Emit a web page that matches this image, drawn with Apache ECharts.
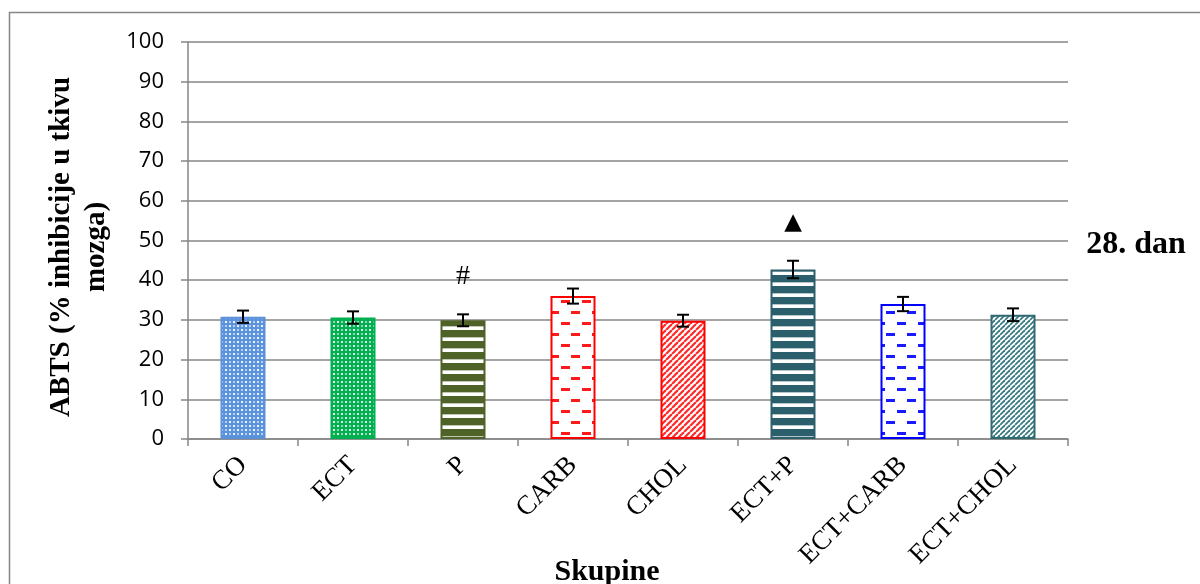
<!DOCTYPE html>
<html><head><meta charset="utf-8">
<script src="https://cdn.jsdelivr.net/npm/echarts@6/dist/echarts.min.js"></script>
<style>html,body{margin:0;padding:0;background:#fff}#c{width:1200px;height:584px}</style>
</head><body><div id="c"></div>
<script>
// ---- data ----
const categories = ['CO', 'ECT', 'P', 'CARB', 'CHOL', 'ECT+P', 'ECT+CARB', 'ECT+CHOL'];
const means = [30.8, 30.6, 29.9, 36.0, 29.8, 42.7, 34.0, 31.3];
const errors = [1.55, 1.55, 1.5, 1.9, 1.5, 2.2, 1.8, 1.6];
const marks = ['', '', '#', '', '', '\u25B2', '', ''];
const yMin = 0, yMax = 100, yStep = 10;
const xTitle = 'Skupine';
const yTitle = 'ABTS (% inhibicije u tkivu\nmozga)';
const sideNote = '28. dan';

// ---- pattern helpers (style only) ----
function tile(w, h, fn) {
  const c = document.createElement('canvas'); c.width = w; c.height = h;
  const g = c.getContext('2d'); g.fillStyle = '#fff'; g.fillRect(0, 0, w, h); fn(g);
  return { image: c, repeat: 'repeat' };
}
function plaid(color) {
  return tile(8, 8, g => {
    g.fillStyle = color; g.fillRect(0, 0, 8, 8);
    g.fillStyle = 'rgba(255,255,255,0.9)'; g.fillRect(1, 1, 2, 2); g.fillRect(5, 5, 2, 2);
    g.fillStyle = 'rgba(255,255,255,0.55)'; g.fillRect(5, 1, 2, 2); g.fillRect(1, 5, 2, 2);
  });
}
function hstripes(color) {
  return tile(11, 11, g => {
    g.fillStyle = color; g.fillRect(0, 0, 11, 7);
    g.globalAlpha = 0.35; g.fillRect(0, 7, 11, 1); g.globalAlpha = 1;
  });
}
function dashes(color) {
  return tile(21, 22, g => {
    g.fillStyle = color;
    g.fillRect(4, 3, 9, 3);
    g.fillRect(15, 14, 6, 3); g.fillRect(0, 14, 3, 3);
  });
}
function diag(color, p, lw) {
  return tile(p, p, g => {
    g.strokeStyle = color; g.lineWidth = lw;
    for (const k of [-p, 0, p]) { g.beginPath(); g.moveTo(k, p); g.lineTo(k + p, 0); g.stroke(); }
  });
}
const borders = ['#5b8fd6', '#00b050', '#4f6228', '#ff0000', '#ff0000', '#2b5f6b', '#0000ff', '#2f6a73'];
const fills = [plaid('#5b93dc'), plaid('#00b050'), hstripes('#4f6228'), dashes('#ff1a1a'),
  diag('#ff2a2a', 6, 2.2), hstripes('#2b5f6b'), dashes('#1a1aff'), diag('#3a7a84', 5, 1.8)];

const chart = echarts.init(document.getElementById('c'), null, { renderer: 'canvas' });
const grid = { left: 188, right: 132, top: 42, bottom: 145 };
chart.setOption({
  animation: false,
  backgroundColor: '#fff',
  grid: grid,
  xAxis: {
    type: 'category', data: categories,
    axisLine: { lineStyle: { color: '#868686', width: 1.5 } },
    axisTick: { show: true, length: 7, lineStyle: { color: '#868686', width: 1.5 } },
    axisLabel: { rotate: 45, margin: 22, fontFamily: 'Liberation Serif', fontSize: 27, color: '#000' }
  },
  yAxis: {
    type: 'value', min: yMin, max: yMax, interval: yStep,
    axisLine: { show: true, lineStyle: { color: '#868686', width: 1.5 } },
    axisTick: { show: true, length: 7, lineStyle: { color: '#868686', width: 1.5 } },
    splitLine: { lineStyle: { color: '#868686', width: 1.5 } },
    axisLabel: { margin: 24, fontFamily: 'Open Sans', fontSize: 22, color: '#000' }
  },
  graphic: [
    { type: 'rect', z: -10, shape: { x: 9.5, y: 12.5, width: 1400, height: 800 }, style: { fill: 'none', stroke: '#868686', lineWidth: 1.5 } },
    { type: 'text', x: 79, y: 247, rotation: Math.PI / 2,
      style: { text: yTitle, font: 'bold 29px "Liberation Serif"', textAlign: 'center', textVerticalAlign: 'middle', lineHeight: 35, fill: '#000' } },
    { type: 'text', x: 607, y: 572,
      style: { text: xTitle, font: 'bold 30px "Liberation Serif"', textAlign: 'center', textVerticalAlign: 'middle', fill: '#000' } },
    { type: 'text', x: 1136, y: 245,
      style: { text: sideNote, font: 'bold 32px "Liberation Serif"', textAlign: 'center', textVerticalAlign: 'middle', fill: '#000' } }
  ],
  series: [
    {
      type: 'bar', barWidth: 45, silent: true, z: 2,
      data: means.map((v, i) => ({ value: v, itemStyle: { color: fills[i], borderColor: borders[i], borderWidth: 2 } }))
    },
    {
      type: 'custom', z: 5, silent: true,
      encode: { x: 0, y: 1 },
      data: means.map((v, i) => [i, v, errors[i]]),
      renderItem: function (params, api) {
        const i = api.value(0), v = api.value(1), e = api.value(2);
        const top = api.coord([i, v + e]), bot = api.coord([i, v - e]);
        const hw = 6, st = { stroke: '#000', lineWidth: 2 };
        const children = [
          { type: 'line', shape: { x1: top[0], y1: top[1], x2: bot[0], y2: bot[1] }, style: st },
          { type: 'line', shape: { x1: top[0] - hw, y1: top[1], x2: top[0] + hw, y2: top[1] }, style: st },
          { type: 'line', shape: { x1: bot[0] - hw, y1: bot[1], x2: bot[0] + hw, y2: bot[1] }, style: st }
        ];
        const m = marks[params.dataIndex];
        if (m) {
          const isTri = m === '\u25B2';
          children.push({ type: 'text', x: top[0], y: top[1] - 38,
            style: { text: m, font: isTri ? '23px "DejaVu Sans"' : '28px "Liberation Serif"', textAlign: 'center', textVerticalAlign: 'middle', fill: '#000' } });
        }
        return { type: 'group', children: children };
      }
    }
  ]
});
</script>
</body></html>
